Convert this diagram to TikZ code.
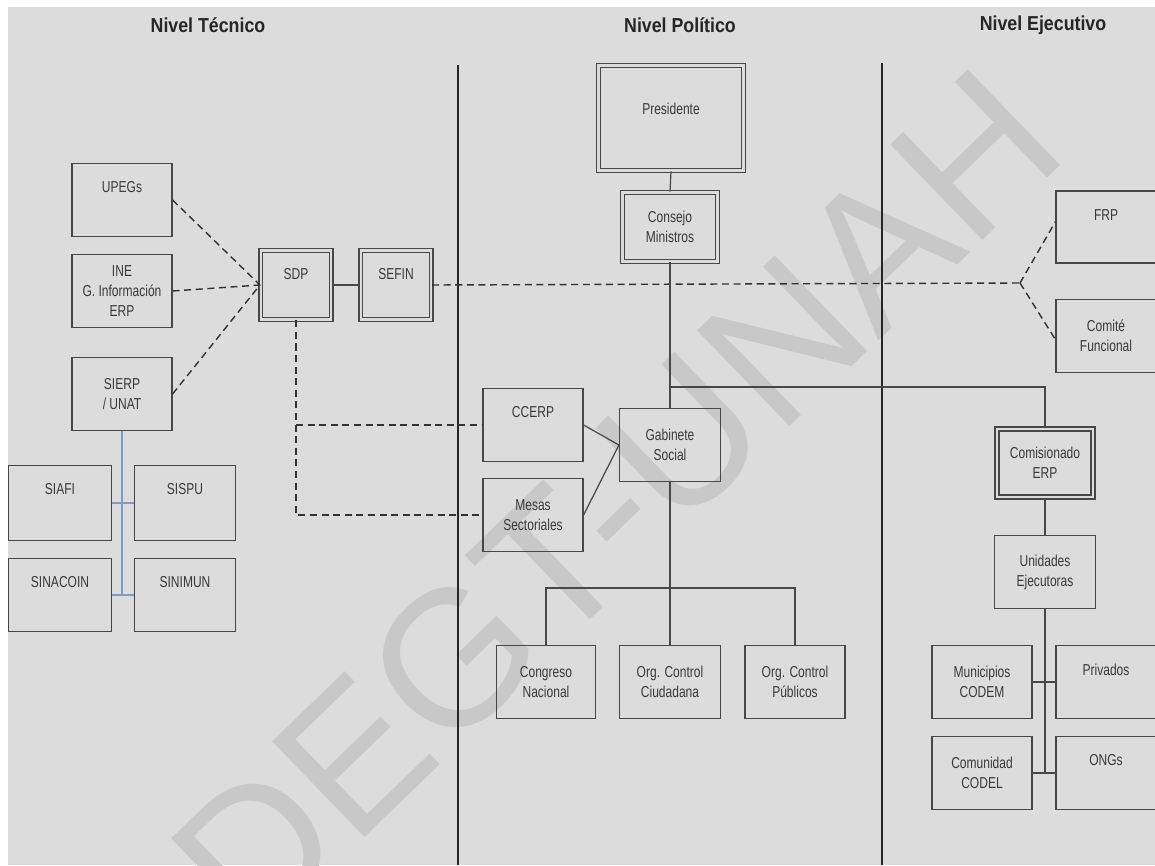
\documentclass[tikz,border=0pt]{standalone}
\usepackage{fontspec}
\setmainfont{Liberation Sans}
\newfontfamily\narrowfont{Liberation Sans}[FakeStretch=0.76]
\newfontfamily\headfont{Liberation Sans}[FakeStretch=0.88]
\definecolor{bg}{HTML}{DCDCDC}
\definecolor{wm}{HTML}{C8C8C8}
\definecolor{ink}{HTML}{474747}
\definecolor{txt}{HTML}{3A3A3A}
\definecolor{bluelink}{HTML}{7F9CC8}
\tikzset{
  box/.style={draw=ink, line width=0.7pt, minimum width=2cm, minimum height=1.46cm,
    inner sep=1pt, align=center, text=txt, font=\narrowfont\fontsize{9}{11.4}\selectfont},
  dbox/.style={box, double=bg, double distance=1.2pt, line width=0.9pt},
  toptext/.style={anchor=center, yshift=-14pt, text=txt, font=\narrowfont\fontsize{9}{11.4}\selectfont},
  head/.style={font=\headfont\bfseries\fontsize{11.5}{13}\selectfont, text=black!85},
  link/.style={draw=ink, line width=0.7pt},
  dlink/.style={draw=black!80, line width=0.8pt, dash pattern=on 4pt off 2.6pt},
  level/.style={draw=black!85, line width=1.3pt},
}
\begin{document}
\begin{tikzpicture}[x=0.02cm, y=-0.02cm]
  \useasboundingbox (0,0) rectangle (1155,865);
  \fill[white] (0,0) rectangle (1155,865);
  \fill[bg] (8,7) rectangle (1155,865);
  \node[rotate=44, text=wm, font=\fontsize{110}{110}\selectfont] (marca) at (616,502) {DEGT-UNAH};

  \node[head] (tecnico) at (208,25) {Nivel Técnico};
  \node[head] (politico) at (680,25) {Nivel Político};
  \node[head] (ejecutivo) at (1043,25) {Nivel Ejecutivo};
  \draw[level] (458,65) -- (458,865);
  \draw[level] (882,63) -- (882,865);

  \node[box, label={[toptext]north:UPEGs}] (upegs) at (122,200) {};
  \node[box] (ine) at (122,291) {INE\\G. Información\\ERP};
  \node[box] (sierp) at (122,394) {SIERP\\/ UNAT};
  \node[box, minimum width=2.06cm, minimum height=1.5cm, label={[toptext]north:SIAFI}] (siafi) at (60,503) {};
  \node[box, minimum width=2.02cm, minimum height=1.5cm, label={[toptext]north:SISPU}] (sispu) at (185,503) {};
  \node[box, minimum width=2.06cm, label={[toptext]north:SINACOIN}] (sinacoin) at (60,595) {};
  \node[box, minimum width=2.02cm, label={[toptext]north:SINIMUN}] (sinimun) at (185,595) {};
  \node[dbox, minimum width=1.41cm, minimum height=1.38cm, label={[toptext]north:SDP}] (sdp) at (296,285) {};
  \node[dbox, minimum width=1.41cm, minimum height=1.38cm, label={[toptext]north:SEFIN}] (sefin) at (396,285) {};

  \node[dbox, minimum width=2.9cm, minimum height=2.1cm, label={[toptext, yshift=-11pt]north:Presidente}] (presidente) at (671,118) {};
  \node[dbox, minimum width=1.9cm, minimum height=1.38cm] (consejo) at (670,227) {Consejo\\Ministros};
  \node[box, label={[toptext]north:CCERP}] (ccerp) at (533,425) {};
  \node[box] (mesas) at (533,515) {Mesas\\Sectoriales};
  \node[box, minimum width=2.02cm] (gabinete) at (670,445) {Gabinete\\Social};
  \node[box, minimum width=1.98cm] (congreso) at (546,682) {Congreso\\Nacional};
  \node[box, minimum width=2.02cm] (ciudadana) at (670,682) {Org. Control\\Ciudadana};
  \node[box] (publicos) at (795,682) {Org. Control\\Públicos};

  \node[box, minimum height=1.44cm, label={[toptext]north:FRP}] (frp) at (1106,227) {};
  \node[box] (comite) at (1106,336) {Comité\\Funcional};
  \node[dbox, minimum width=1.92cm, minimum height=1.36cm] (comisionado) at (1045,463) {Comisionado\\ERP};
  \node[box, minimum width=2.02cm] (unidades) at (1045,572) {Unidades\\Ejecutoras};
  \node[box] (municipios) at (982,682) {Municipios\\CODEM};
  \node[box, label={[toptext]north:Privados}] (privados) at (1106,682) {};
  \node[box] (comunidad) at (982,773) {Comunidad\\CODEL};
  \node[box, label={[toptext]north:ONGs}] (ongs) at (1106,773) {};

  \coordinate (split) at (1020,283);
  \coordinate (tee) at (670,387);
  \coordinate (bus) at (670,588);

  \begin{scope}[dlink]
    \draw (upegs.east) -- (sdp.west);
    \draw (ine.east) -- (sdp.west);
    \draw (sierp.east) -- (sdp.west);
    \draw (sefin.east) -- (split);
    \draw (split) -- ([yshift=3pt]frp.west);
    \draw (split) -- ([yshift=-2pt]comite.west);
    \draw (sdp.south) -- (sdp.south |- mesas.west) -- (mesas.west);
    \draw (sdp.south |- ccerp.west) -- (ccerp.west);
  \end{scope}
  \begin{scope}[link]
    \draw (sdp.east) -- (sefin.west);
    \draw (presidente.south) -- (consejo.north);
    \draw (consejo.south) -- (gabinete.north);
    \draw (tee) -| (comisionado.north);
    \draw (ccerp.east) -- (gabinete.west);
    \draw (mesas.east) -- (gabinete.west);
    \draw (gabinete.south) -- (ciudadana.north);
    \draw (congreso.north) |- (bus) -| (publicos.north);
    \draw (comisionado.south) -- (unidades.north);
    \draw (unidades.south) -- (unidades.south |- ongs.west);
    \draw (municipios.east) -- (privados.west);
    \draw (comunidad.east) -- (ongs.west);
  \end{scope}
  \begin{scope}[draw=bluelink, line width=1pt]
    \draw (sierp.south) -- (sierp.south |- sinimun.west);
    \draw (siafi.east) -- (sispu.west);
    \draw (sinacoin.east) -- (sinimun.west);
  \end{scope}
\end{tikzpicture}
\end{document}
